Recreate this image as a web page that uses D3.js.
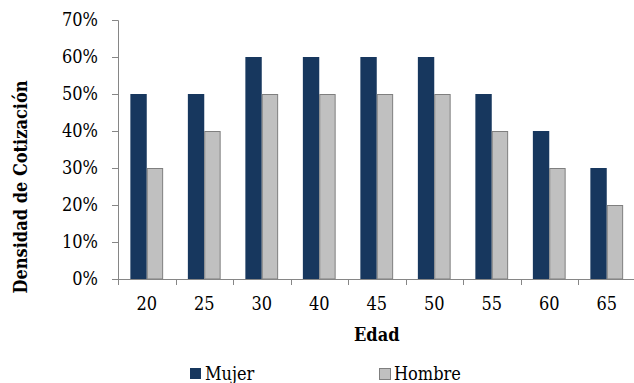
<!DOCTYPE html>
<html>
<head>
<meta charset="utf-8">
<script src="https://cdn.jsdelivr.net/npm/d3@7"></script>
<style>
  html, body { margin: 0; padding: 0; background: #fff; }
  svg { display: block; }
  svg text { fill: #000; }
</style>
</head>
<body>
<script>
// Densidad de cotización por edad y sexo
const edades = ["20", "25", "30", "40", "45", "50", "55", "60", "65"];
const mujer  = [0.50, 0.50, 0.60, 0.60, 0.60, 0.60, 0.50, 0.40, 0.30];
const hombre = [0.30, 0.40, 0.50, 0.50, 0.50, 0.50, 0.40, 0.30, 0.20];
const yTicks = [0, 0.1, 0.2, 0.3, 0.4, 0.5, 0.6, 0.7];
const series = [
  { name: "Mujer", values: mujer, fill: "#17375e", stroke: "none" },
  { name: "Hombre", values: hombre, fill: "#c0c0c0", stroke: "#7f7f7f" }
];

const W = 634, H = 383;
const plotLeft = 118, plotRight = 635.5, plotTop = 20, plotBottom = 279;
const serif = "'DejaVu Serif Condensed', 'DejaVu Serif', serif";
const fs = 18;

const svg = d3.select("body").append("svg").attr("width", W).attr("height", H)
  .attr("font-family", serif);

const x0 = d3.scaleBand().domain(edades).range([plotLeft, plotRight])
  .paddingInner(0.43).paddingOuter(0.215);
const x1 = d3.scaleBand().domain(series.map(s => s.name)).range([0, x0.bandwidth()]);
const y = d3.scaleLinear().domain([0, 0.7]).range([plotBottom, plotTop]);

// Barras
const groups = svg.append("g").selectAll("g").data(series).join("g");
groups.selectAll("rect")
  .data(s => s.values.map((v, i) => ({ s, v, cat: edades[i] })))
  .join("rect")
  .attr("x", d => x0(d.cat) + x1(d.s.name) + (d.s.stroke === "none" ? 0 : 0.5))
  .attr("y", d => y(d.v) + (d.s.stroke === "none" ? 0 : 0.5))
  .attr("width", d => x1.bandwidth() - (d.s.stroke === "none" ? 0 : 1))
  .attr("height", d => plotBottom - y(d.v) - (d.s.stroke === "none" ? 0 : 0.5))
  .attr("fill", d => d.s.fill)
  .attr("stroke", d => d.s.stroke)
  .attr("stroke-width", 1);

// Eje Y
const yAxis = d3.axisLeft(y).tickValues(yTicks).tickFormat(d3.format(".0%"))
  .tickSize(6).tickPadding(14);
const gy = svg.append("g").attr("transform", `translate(${plotLeft},0)`).call(yAxis)
  .attr("font-family", serif).attr("font-size", fs);
gy.selectAll("path, line").attr("stroke", "#868686");

// Eje X
const xTickScale = d3.scaleLinear().domain([0, edades.length]).range([plotLeft, plotRight]);
const gx = svg.append("g").attr("transform", `translate(0,${plotBottom})`);
gx.append("line").attr("x1", plotLeft).attr("x2", W).attr("y1", 0.5).attr("y2", 0.5)
  .attr("stroke", "#868686");
gx.selectAll("line.tick").data(d3.range(edades.length + 1)).join("line")
  .attr("class", "tick")
  .attr("x1", i => Math.round(xTickScale(i)) + 0.5).attr("x2", i => Math.round(xTickScale(i)) + 0.5)
  .attr("y1", 0).attr("y2", 6).attr("stroke", "#868686");
gx.selectAll("text").data(edades).join("text")
  .attr("x", d => x0(d) + x0.bandwidth() / 2)
  .attr("y", 31)
  .attr("text-anchor", "middle")
  .attr("font-size", fs)
  .text(d => d);

// Títulos de ejes
svg.append("text")
  .attr("x", (plotLeft + plotRight) / 2).attr("y", 341)
  .attr("text-anchor", "middle")
  .attr("font-size", fs).attr("font-weight", "bold")
  .text("Edad");

svg.append("text")
  .attr("transform", "translate(27,187) rotate(-90)")
  .attr("text-anchor", "middle")
  .attr("font-size", fs).attr("font-weight", "bold")
  .text("Densidad de Cotización");

// Leyenda
const legendX = [190, 379];
const lg = svg.append("g").selectAll("g").data(series).join("g")
  .attr("transform", (d, i) => `translate(${legendX[i]},0)`);
lg.append("rect")
  .attr("x", d => d.stroke === "none" ? 0 : 0.5)
  .attr("y", d => d.stroke === "none" ? 368 : 368.5)
  .attr("width", 11)
  .attr("height", 11)
  .attr("fill", d => d.fill)
  .attr("stroke", d => d.stroke);
lg.append("text")
  .attr("x", 15).attr("y", 380)
  .attr("font-size", fs)
  .text(d => d.name);
</script>
</body>
</html>
